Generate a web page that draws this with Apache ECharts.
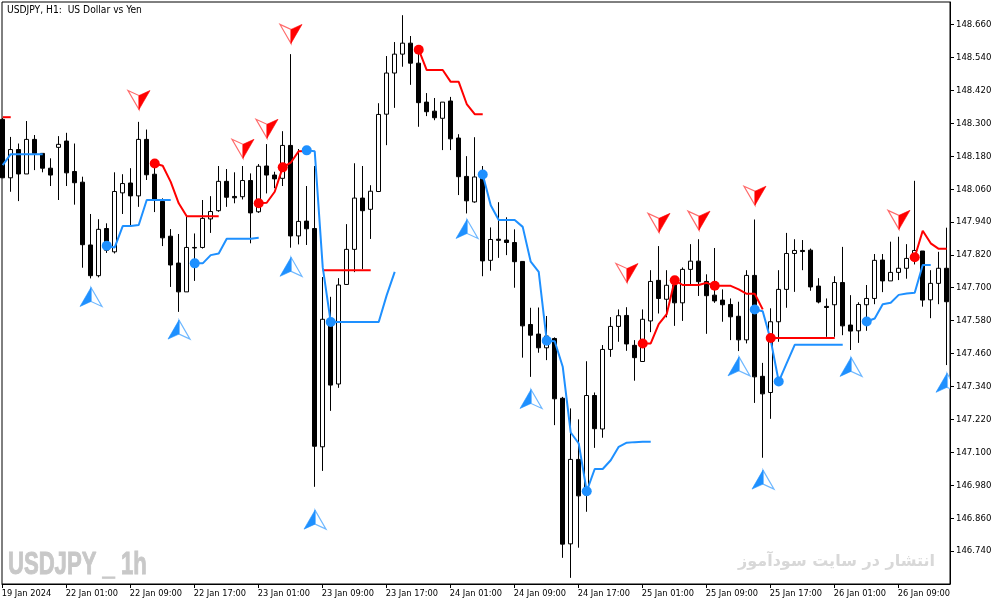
<!DOCTYPE html>
<html><head><meta charset="utf-8">
<style>html,body{margin:0;padding:0;background:#fff}#c{width:1003px;height:605px}</style>
<script src="https://cdn.jsdelivr.net/npm/echarts@6/dist/echarts.min.js"></script>
</head><body><div id="c"></div>
<script>
const FONT = '"DejaVu Sans Condensed","DejaVu Sans",sans-serif';
const opens = [148.314,148.101,148.204,148.115,148.241,148.190,148.136,148.212,148.235,148.124,
148.085,147.856,147.744,147.916,147.831,148.046,148.082,148.035,148.241,148.114,
148.015,147.888,147.790,147.685,147.847,147.847,147.951,147.981,148.088,148.033,
148.032,148.091,147.977,148.144,148.111,148.099,148.219,147.889,147.943,147.916,
147.120,147.586,147.349,147.712,147.840,148.027,147.986,148.051,148.333,148.483,
148.552,148.592,148.519,148.377,148.344,148.318,148.381,148.246,148.106,148.013,
148.104,147.800,147.877,147.874,147.865,147.796,147.566,147.531,147.481,147.515,
147.297,146.766,147.074,146.944,147.307,147.185,147.475,147.559,147.599,147.490,
147.431,147.579,147.727,147.658,147.710,147.645,147.767,147.797,147.723,147.673,
147.655,147.639,147.596,147.510,147.745,147.377,147.318,147.576,147.694,147.825,
147.836,147.837,147.706,147.632,147.638,147.719,147.564,147.543,147.638,147.661,
147.801,147.725,147.756,147.771,147.807,147.834,147.656,147.716,147.771];
const closes = [148.101,148.204,148.115,148.241,148.190,148.136,148.111,148.223,148.119,148.083,
147.857,147.744,147.913,147.837,148.051,148.080,148.035,148.241,148.112,148.020,
147.882,147.783,147.685,147.847,147.845,147.953,147.978,148.088,148.030,148.028,
148.091,147.973,148.143,148.111,148.097,148.219,147.889,147.942,147.915,147.122,
147.585,147.345,147.710,147.840,148.027,147.981,148.052,148.332,148.483,148.552,
148.592,148.519,148.375,148.342,148.320,148.377,148.243,148.105,148.017,148.104,
147.798,147.876,147.873,147.865,147.795,147.561,147.527,147.481,147.524,147.295,
146.765,147.074,146.941,147.307,147.186,147.475,147.559,147.598,147.495,147.445,
147.585,147.723,147.661,147.709,147.645,147.767,147.797,147.722,147.671,147.652,
147.638,147.594,147.510,147.745,147.375,147.313,147.576,147.694,147.825,147.836,
147.832,147.703,147.648,147.628,147.719,147.561,147.542,147.639,147.661,147.800,
147.725,147.756,147.771,147.807,147.836,147.655,147.716,147.771,147.649];
const lows = [148.100,148.050,148.016,148.115,148.129,148.121,148.071,148.020,148.071,148.003,
147.773,147.734,147.738,147.827,147.825,147.969,147.925,147.995,148.093,147.976,
147.852,147.703,147.612,147.685,147.725,147.843,147.900,147.977,147.995,148.008,
148.022,147.862,147.973,148.044,148.063,148.071,147.846,147.858,147.856,146.974,
147.032,147.251,147.335,147.710,147.757,147.768,147.878,148.049,148.220,148.356,
148.506,148.440,148.287,148.326,148.311,148.202,148.202,148.038,147.971,148.010,
147.742,147.762,147.809,147.819,147.700,147.445,147.375,147.463,147.436,147.199,
146.715,146.642,146.752,146.883,147.116,147.153,147.448,147.503,147.470,147.361,
147.431,147.538,147.606,147.592,147.561,147.579,147.710,147.670,147.532,147.645,
147.576,147.509,147.469,147.497,147.280,147.080,147.222,147.503,147.627,147.685,
147.764,147.689,147.643,147.521,147.521,147.527,147.473,147.499,147.543,147.640,
147.684,147.725,147.728,147.733,147.785,147.631,147.589,147.640,147.418];
const highs = [148.319,148.250,148.226,148.308,148.257,148.190,148.172,148.253,148.265,148.226,
148.105,147.969,147.950,147.935,148.121,148.114,148.136,148.305,148.277,148.154,
148.026,147.914,147.896,147.959,147.898,148.020,148.034,148.144,148.133,148.121,
148.144,148.117,148.151,148.224,148.123,148.271,148.552,148.206,148.071,148.144,
147.739,147.667,147.735,147.932,148.154,148.144,148.074,148.373,148.545,148.596,
148.694,148.618,148.567,148.410,148.392,148.377,148.396,148.260,148.180,148.249,
148.144,147.920,148.012,147.957,147.913,147.797,147.627,147.628,147.597,147.519,
147.302,147.260,147.220,147.432,147.318,147.491,147.593,147.621,147.629,147.509,
147.621,147.764,147.852,147.764,147.740,147.774,147.859,147.877,147.749,147.845,
147.694,147.661,147.649,147.764,147.949,147.426,147.625,147.764,147.900,147.877,
147.874,147.843,147.735,147.661,147.742,147.849,147.673,147.647,147.710,147.823,
147.823,147.868,147.886,147.859,148.090,147.834,147.764,147.831,147.919];

const redStart0 = [148.322,148.322];
const redStart19 = [148.153,148.145,148.086,148.008,147.961,147.961,147.961,147.961,147.961];
const redStart32 = [148.008,148.010,148.050,148.139,148.156,148.198,148.199];
const redStart40 = [147.764,147.764,147.764,147.764,147.764,147.764,147.764];
const redStart52 = [148.568,148.494,148.494,148.494,148.451,148.451,148.370,148.333,148.333];
const redStart80 = [147.497,147.497,147.567,147.604,147.727,147.710,147.710,147.710,147.718,147.707,147.707,147.707,147.694,147.678,147.678,147.621];
const redStart96 = [147.517,147.517,147.517,147.517,147.517,147.517,147.517,147.517,147.517];
const redStart114 = [147.811,147.908,147.862,147.842,147.842];
const redRuns = [[0,redStart0],[19,redStart19],[32,redStart32],[40,redStart40],[52,redStart52],[80,redStart80],[96,redStart96],[114,redStart114]];

const blueStart0 = [148.147,148.187,148.187,148.187,148.187,148.187];
const blueStart13 = [147.853,147.847,147.925,147.925,147.929,148.020,148.020,148.020,148.020];
const blueStart24 = [147.789,147.789,147.819,147.825,147.879,147.879,147.879,147.879,147.882];
const blueStart38 = [148.201,148.198,147.775,147.575,147.575,147.575,147.575,147.575,147.575,147.575,147.673,147.758];
const blueStart60 = [148.113,148.001,147.947,147.947,147.947,147.922,147.795,147.758,147.507,147.505,147.412,147.172,147.132,146.958,147.039,147.039,147.071,147.120,147.135,147.137,147.138,147.138];
const blueStart94 = [147.621,147.614,147.509,147.358,147.425,147.492,147.492,147.492,147.492,147.492,147.492,147.492];
const blueStart108 = [147.577,147.588,147.640,147.645,147.674,147.679,147.682,147.783,147.783];
const blueRuns = [[0,blueStart0],[13,blueStart13],[24,blueStart24],[38,blueStart38],[60,blueStart60],[94,blueStart94],[108,blueStart108]];

const redDotBars = [19,32,35,52,80,84,89,96,114];
const blueDotBars = [13,24,38,41,60,68,73,94,97,108];

const upArrows = [[11,147.701],[22,147.582],[36,147.811],[39,146.889],[58,147.949],[66,147.329],[92,147.448],[95,147.035],[106,147.446],[118,147.388]];
const downArrows = [[17,148.350],[30,148.172],[33,148.245],[36,148.591],[78,147.719],[82,147.902],[87,147.910],[94,148.001],[112,147.913]];

const priceTicks = [148.660,148.540,148.420,148.300,148.180,148.060,147.940,147.820,147.700,147.580,147.460,147.340,147.220,147.100,146.980,146.860,146.740];
const timeTicks = [0,8,16,24,32,40,48,56,64,72,80,88,96,104,112];
const timeLabels = ['19 Jan 2024','22 Jan 01:00','22 Jan 09:00','22 Jan 17:00','23 Jan 01:00','23 Jan 09:00','23 Jan 17:00','24 Jan 01:00','24 Jan 09:00','24 Jan 17:00','25 Jan 01:00','25 Jan 09:00','25 Jan 17:00','26 Jan 01:00','26 Jan 09:00'];

const RED='#ff0000', BLUE='#1e90ff';
const candles = opens.map((o,i)=>[i,o,closes[i],lows[i],highs[i]]);

function runSeries(runs,color){
  return runs.map(([s,vals])=>({type:'line',data:vals.map((v,k)=>[s+k,v]),showSymbol:false,
    lineStyle:{color,width:2},itemStyle:{color},z:5,silent:true,animation:false}));
}
function dotData(runs,bars){
  return bars.map(b=>{
    for(const [s,vals] of runs){ if(b>=s&&b<s+vals.length&&!(b===s+vals.length-1&&runs.some(r=>r[0]===b))) return [b,vals[b-s]]; }
    return null;
  });
}
function arrow(dir,color,soft){
  return function(params,api){
    const p=api.coord([api.value(0),api.value(1)]);
    const x=Math.round(p[0]),y=p[1],d=dir;
    const apex=[x,y],l=[x-11,y+19*d],r=[x+11,y+19*d],n=[x,y+14*d];
    const solid=d>0?[apex,l,n]:[apex,r,n];
    const hollow=d>0?[apex,r,n]:[apex,l,n];
    return {type:'group',children:[
      {type:'polygon',shape:{points:hollow},style:{fill:'#fff',stroke:soft,lineWidth:1.2}},
      {type:'polygon',shape:{points:solid},style:{fill:color,stroke:color,lineWidth:0.6}}
    ]};
  };
}
const chart=echarts.init(document.getElementById('c'),null,{renderer:'canvas'});
chart.setOption({
  animation:false,backgroundColor:'#fff',
  textStyle:{fontFamily:FONT},
  grid:{left:2,top:2,width:948,height:582,show:true,borderColor:'#000',borderWidth:1,backgroundColor:'transparent',outerBoundsMode:'none',containLabel:false},
  xAxis:{type:'value',min:-0.09,max:118.41,splitLine:{show:false},
    axisLine:{show:true,onZero:false,lineStyle:{color:'#000',width:1}},
    axisTick:{show:true,length:4,customValues:timeTicks,lineStyle:{color:'#000'}},
    axisLabel:{customValues:timeTicks,color:'#000',fontFamily:FONT,fontSize:9.2,align:'left',margin:5,hideOverlap:false,
      showMinLabel:true,showMaxLabel:true,padding:[0,0,0,-1],
      formatter:v=>timeLabels[timeTicks.indexOf(Math.round(v))]||''}},
  yAxis:{type:'value',position:'right',min:146.6196,max:148.7421,scale:true,splitLine:{show:false},
    axisLine:{show:true,onZero:false,lineStyle:{color:'#000',width:1}},
    axisTick:{show:true,length:4,customValues:priceTicks,lineStyle:{color:'#000'}},
    axisLabel:{customValues:priceTicks,color:'#000',fontFamily:FONT,fontSize:9.5,margin:6,formatter:v=>v.toFixed(3)}},
  graphic:[
    {type:'text',left:7,top:5,style:{text:'USDJPY, H1:  US Dollar vs Yen',fill:'#000',font:'10.2px '+FONT},z:20},
    {type:'text',x:8,y:549,scaleX:0.69,style:{text:'USDJPY _ 1h',fill:'#c8c8c8',stroke:'#c8c8c8',lineWidth:1,font:'bold 32px "Liberation Sans",sans-serif'},z:1},
    {type:'text',x:738,y:554,style:{text:'انتشار در سایت سودآموز',fill:'#d8d8d8',font:'bold 16px "DejaVu Sans",sans-serif'},z:1}
  ],
  series:[
    {type:'candlestick',data:candles,encode:{x:0,y:[1,2,3,4]},barWidth:4,clip:true,z:3,silent:true,
      itemStyle:{color:'#fff',color0:'#000',borderColor:'#000',borderColor0:'#000',borderWidth:1}},
    ...runSeries(redRuns,RED),
    ...runSeries(blueRuns,BLUE),
    {type:'scatter',data:dotData(redRuns,redDotBars),symbolSize:10,itemStyle:{color:RED,opacity:1},z:6,silent:true},
    {type:'scatter',data:dotData(blueRuns,blueDotBars),symbolSize:10,itemStyle:{color:BLUE,opacity:1},z:6,silent:true},
    {type:'custom',data:upArrows,renderItem:arrow(1,BLUE,'#6fb8ff'),clip:true,z:7,silent:true,encode:{x:0,y:1}},
    {type:'custom',data:downArrows,renderItem:arrow(-1,RED,'#ff6b6b'),clip:true,z:7,silent:true,encode:{x:0,y:1}}
  ]
});
</script></body></html>
